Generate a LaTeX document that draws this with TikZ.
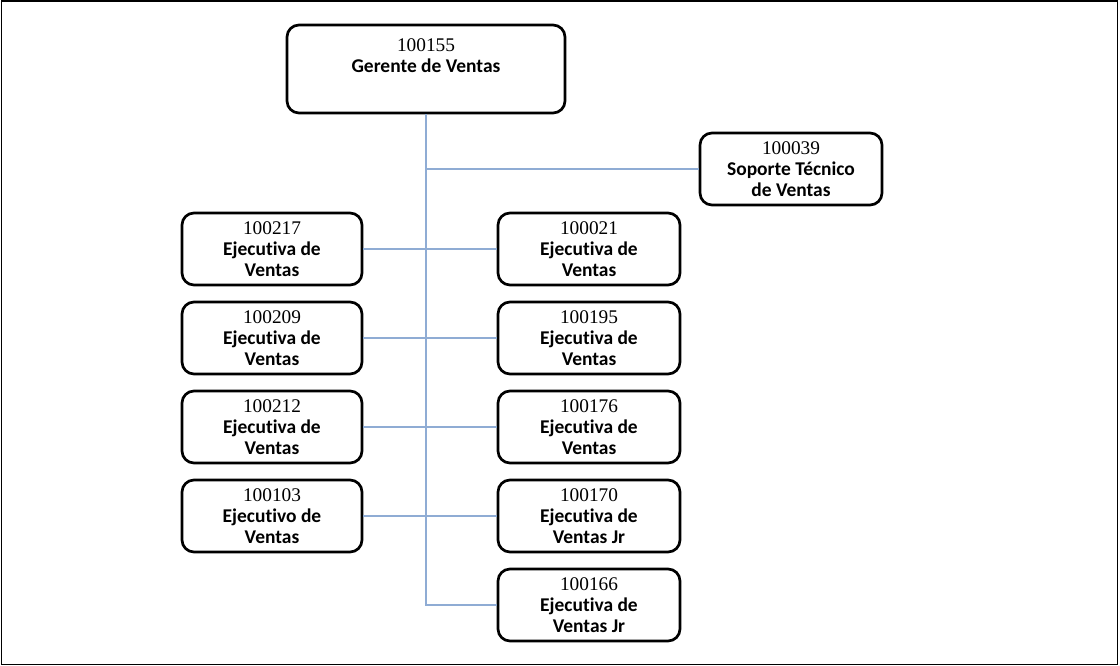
\documentclass[tikz,border=0pt]{standalone}
\usepackage{fontspec}
\setmainfont[Ligatures=NoCommon]{Carlito}
\newfontfamily\numfont{Liberation Serif}
\newcommand{\idnum}[1]{{\numfont\mdseries\fontsize{14.5}{15.5}\selectfont #1}}
\begin{document}
\begin{tikzpicture}[x=0.75pt,y=-0.75pt,
  orgbox/.style={draw=black, line width=2pt, rounded corners=9pt, fill=white,
    align=center, inner sep=0pt, font=\fontsize{14.6}{15.5}\selectfont\bfseries},
  stdbox/.style={orgbox, minimum width=135pt, minimum height=54pt},
  link/.style={draw={rgb,255:red,143;green,172;blue,212}, line width=1.1pt}]
\useasboundingbox (0,0) rectangle (1120,666);
\draw[line width=1.4pt] (1.5,1) rectangle (1117.5,664.5);

% head of the department
\node[orgbox, minimum width=208.5pt, minimum height=66pt] (g) at (426,69)
  {\idnum{100155}\\Gerente de Ventas\\\strut};

% support role
\node[stdbox, minimum width=136.5pt] (s) at (791,169)
  {\idnum{100039}\\Soporte Técnico\\de Ventas};

% left column
\node[stdbox] (l1) at (272,249) {\idnum{100217}\\Ejecutiva de\\Ventas};
\node[stdbox] (l2) at (272,338) {\idnum{100209}\\Ejecutiva de\\Ventas};
\node[stdbox] (l3) at (272,427) {\idnum{100212}\\Ejecutiva de\\Ventas};
\node[stdbox] (l4) at (272,516) {\idnum{100103}\\Ejecutivo de\\Ventas};

% right column
\node[stdbox, minimum width=136.5pt] (r1) at (589,249) {\idnum{100021}\\Ejecutiva de\\Ventas};
\node[stdbox, minimum width=136.5pt] (r2) at (589,338) {\idnum{100195}\\Ejecutiva de\\Ventas};
\node[stdbox, minimum width=136.5pt] (r3) at (589,427) {\idnum{100176}\\Ejecutiva de\\Ventas};
\node[stdbox, minimum width=136.5pt] (r4) at (589,516) {\idnum{100170}\\Ejecutiva de\\Ventas Jr};
\node[stdbox, minimum width=136.5pt] (r5) at (589,605) {\idnum{100166}\\Ejecutiva de\\Ventas Jr};

% trunk and branches
\coordinate (tb) at (g.south |- r5.west);
\coordinate (ts) at (g.south |- s.west);
\draw[link] (g.south) -- (tb) -- (r5.west);
\draw[link] (ts) -- (s.west);
\draw[link] (l1.east) -- (r1.west);
\draw[link] (l2.east) -- (r2.west);
\draw[link] (l3.east) -- (r3.west);
\draw[link] (l4.east) -- (r4.west);
\end{tikzpicture}
\end{document}
